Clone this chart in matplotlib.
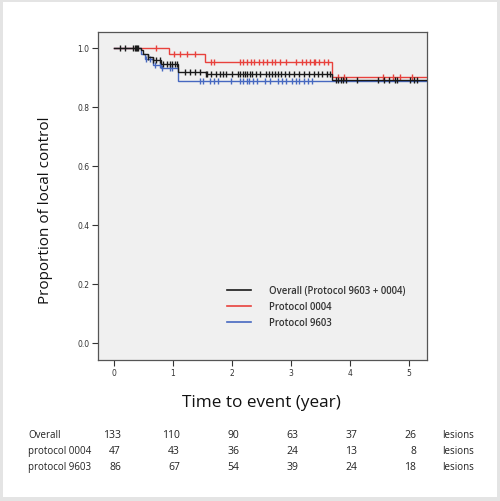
import numpy as np
import matplotlib
matplotlib.use("Agg")
import matplotlib.pyplot as plt
from matplotlib.patches import Rectangle
from matplotlib.lines import Line2D

# ---- data ----
# step functions: event times (years) and survival level after each event
overall_times = [0.45, 0.50, 0.58, 0.66, 0.80, 1.09, 1.56, 3.69]
overall_surv = [0.992, 0.980, 0.968, 0.958, 0.947, 0.920, 0.912, 0.890]
overall_cens = [0.11, 0.19, 0.32, 0.35, 0.37, 0.39, 0.41, 0.58, 0.66, 0.71, 0.78, 0.83,
                0.89, 0.95, 0.99, 1.03, 1.06, 1.20, 1.29, 1.37, 1.46, 1.56, 1.58, 1.64,
                1.72, 1.80, 1.84, 1.89, 2.00, 2.10, 2.14, 2.18, 2.22, 2.26, 2.30, 2.34,
                2.40, 2.48, 2.57, 2.62, 2.67, 2.72, 2.77, 2.82, 2.90, 2.97, 3.05, 3.14,
                3.22, 3.31, 3.39, 3.45, 3.52, 3.60, 3.66, 3.76, 3.80, 3.84, 3.88, 3.93,
                4.11, 4.47, 4.58, 4.66, 4.75, 4.80, 5.02, 5.08, 5.13]

p0004_times = [0.93, 1.54, 3.69]
p0004_surv = [0.979, 0.953, 0.900]
p0004_cens = [0.71, 1.02, 1.12, 1.24, 1.37, 1.64, 1.69, 2.14, 2.19, 2.26, 2.32, 2.37,
              2.46, 2.53, 2.59, 2.67, 2.73, 2.81, 2.92, 3.09, 3.18, 3.25, 3.32, 3.39,
              3.41, 3.48, 3.56, 3.63, 3.80, 3.90, 4.55, 4.72, 4.85, 5.05]

p9603_times = [0.45, 0.52, 0.66, 0.80, 1.09]
p9603_surv = [0.980, 0.964, 0.943, 0.932, 0.887]
p9603_cens = [0.55, 0.61, 0.69, 0.78, 0.81, 0.95, 0.98, 1.46, 1.51, 1.63, 1.69, 1.77,
              1.99, 2.14, 2.19, 2.25, 2.29, 2.35, 2.42, 2.56, 2.64, 2.78, 2.84, 2.92,
              3.01, 3.09, 3.14, 3.22, 3.28, 3.36]

series_names = ["Overall (Protocol 9603 + 0004)", "Protocol 0004", "Protocol 9603"]
series_colors = ["#1a1a1a", "#e8413c", "#4668c0"]

x_ticks = [0, 1, 2, 3, 4, 5]
y_ticks = [0.0, 0.2, 0.4, 0.6, 0.8, 1.0]

risk_rows = ["Overall", "protocol 0004", "protocol 9603"]
risk_overall = [133, 110, 90, 63, 37, 26]
risk_0004 = [47, 43, 36, 24, 13, 8]
risk_9603 = [86, 67, 54, 39, 24, 18]
risk_unit = "lesions"

T_END = 5.30

# ---- figure ----
fig = plt.figure(figsize=(5.0, 5.02), dpi=100)
fig.patch.set_facecolor("#e4e4e4")
fig.patches.append(Rectangle((3 / 500, 4 / 502), 494 / 500, 495 / 502,
                             transform=fig.transFigure, facecolor="white",
                             edgecolor="none", zorder=-10))

ax = fig.add_axes([98 / 500, 141 / 502, 329 / 500, 328 / 502])
ax.set_zorder(1)
ax.set_facecolor("#f0f0f0")


def step_xy(times, surv):
    xs = [0.0]
    ys = [1.0]
    for t, s in zip(times, surv):
        xs += [t, t]
        ys += [ys[-1], s]
    xs.append(T_END)
    ys.append(ys[-1])
    return np.array(xs), np.array(ys)


def level_at(times, surv, t):
    s = 1.0
    for tt, ss in zip(times, surv):
        if t >= tt:
            s = ss
    return s


data = [(overall_times, overall_surv, overall_cens),
        (p0004_times, p0004_surv, p0004_cens),
        (p9603_times, p9603_surv, p9603_cens)]
zorders = [5, 4, 3]

for (times, surv, cens), col, z in zip(data, series_colors, zorders):
    xs, ys = step_xy(times, surv)
    ax.plot(xs, ys, color=col, lw=1.0, zorder=z, solid_joinstyle="miter")
    cy = [level_at(times, surv, c) for c in cens]
    ax.plot(cens, cy, linestyle="none", marker="|", markersize=5,
            markeredgewidth=1.0, color=col, zorder=z)

ax.set_xlim(-0.27, T_END)
ax.set_ylim(-0.058, 1.054)
ax.set_xticks(x_ticks)
ax.set_xticklabels([str(v) for v in x_ticks])
ax.set_yticks(y_ticks)
ax.set_yticklabels([f"{v:.1f}" for v in y_ticks])
ax.tick_params(direction="out", length=4, width=0.8, labelsize=5.5,
               colors="#333333", pad=2)
for sp in ax.spines.values():
    sp.set_color("#555555")
    sp.set_linewidth(0.9)

ax.set_ylabel("Proportion of local control", fontsize=11, family="Open Sans",
              color="#111111", va="center")
ax.yaxis.set_label_coords(-0.161, 0.46)
ax.set_xlabel("Time to event (year)", fontsize=12.3, family="Open Sans",
              color="#111111", va="center")
ax.xaxis.set_label_coords(0.497, -0.128)

handles = [Line2D([0], [0], color=c, lw=1.2) for c in series_colors]
leg = ax.legend(handles, series_names, loc="upper left",
                bbox_to_anchor=(0.393, 0.228), frameon=False, borderpad=0,
                borderaxespad=0,
                handlelength=2.5, handletextpad=1.9, labelspacing=0.52,
                prop={"family": "Open Sans", "size": 6.9, "weight": "semibold"})
for t in leg.get_texts():
    t.set_color("#333333")

# ---- risk table ----
row_y = [436, 452, 468]
tick_px = [114 + 59 * v for v in x_ticks]
tables = [risk_overall, risk_0004, risk_9603]
for name, vals, yp in zip(risk_rows, tables, row_y):
    fy = 1 - yp / 502
    fig.text(28 / 500, fy, name, fontsize=7.0, family="Open Sans",
             color="#222222", va="center", ha="left")
    for v, tp in zip(vals, tick_px):
        fig.text((tp + 7) / 500, fy, str(v), fontsize=7.5, family="Open Sans",
                 color="#222222", va="center", ha="right")
    fig.text(442 / 500, fy, risk_unit, fontsize=7.0, family="Open Sans",
             color="#222222", va="center", ha="left")

fig.savefig("out.png", dpi=100, facecolor=fig.get_facecolor())
